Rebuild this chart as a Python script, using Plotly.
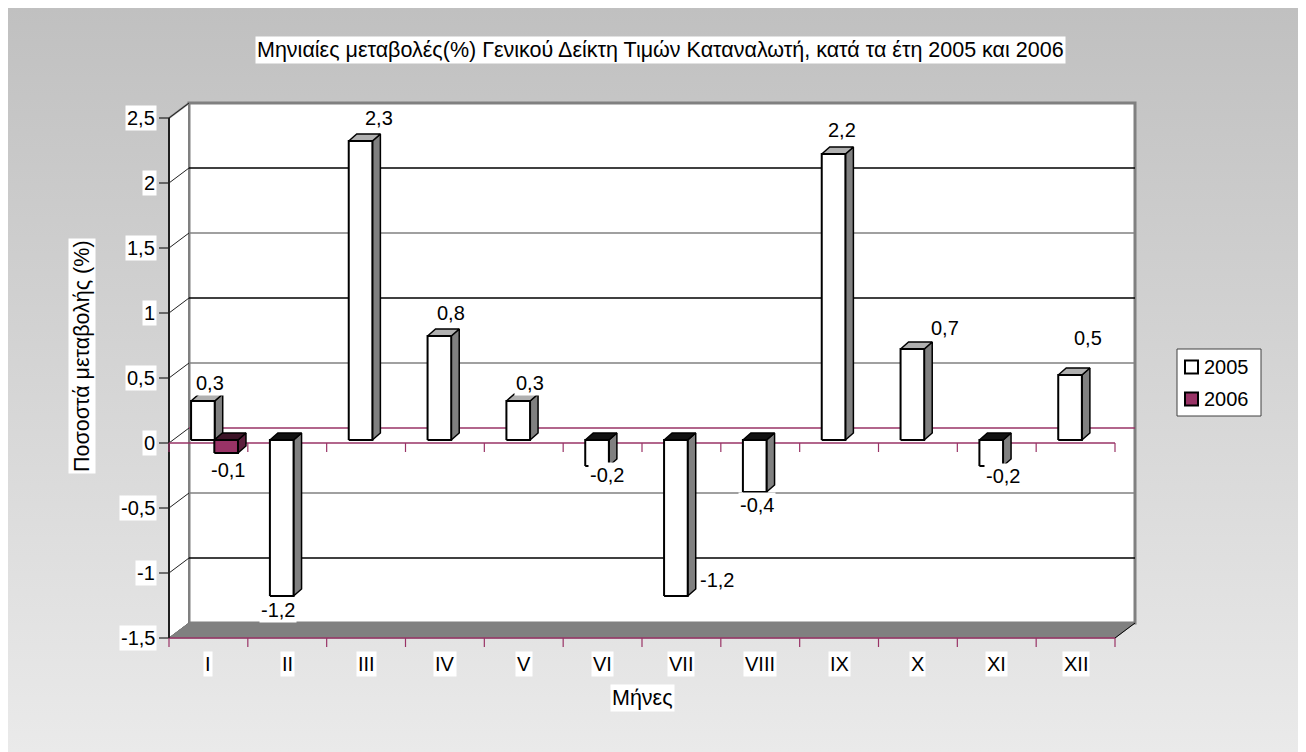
import base64
import plotly.graph_objects as go

# ---------------- data ----------------
title_text = "Μηνιαίες μεταβολές(%) Γενικού Δείκτη Τιμών Καταναλωτή, κατά τα έτη 2005 και 2006"
y_title = "Ποσοστά μεταβολής (%)"
x_title = "Μήνες"
months = ["I", "II", "III", "IV", "V", "VI", "VII", "VIII", "IX", "X", "XI", "XII"]
series_names = ["2005", "2006"]
values_2005 = [0.3, -1.2, 2.3, 0.8, 0.3, -0.2, -1.2, -0.4, 2.2, 0.7, -0.2, 0.5]
values_2006 = [-0.1, None, None, None, None, None, None, None, None, None, None, None]
y_ticks = [-1.5, -1.0, -0.5, 0.0, 0.5, 1.0, 1.5, 2.0, 2.5]
y_tick_labels = ["-1,5", "-1", "-0,5", "0", "0,5", "1", "1,5", "2", "2,5"]

# label placement offsets (pixels, relative to bar end)
label_offsets_2005 = [(7, -18), (-4, 14), (18, -23), (12, -23), (12, -18), (10, 9),
                      (41, -16), (2, 13), (8, -24), (33, -21), (12, 10), (18, -37)]
label_offsets_2006 = [(2, 17)] + [None] * 11

# ---------------- geometry / style ----------------
PAGE = 8                                   # page body margin
W, H = 1306 - PAGE, 752 - PAGE
PL, PR, PT, PB = 150, 1140, 100, 650       # plot area in screen pixels
X0PX, Y0PX = 169, 443                      # front origin (screen pixel)
n = len(months)
SX = 946.0 / n                             # px per category
SY = 130.0                                 # px per unit
DXB, DYB = 20 / SX, 15 / SY                # back wall offset
BDX, BDY = 8 / SX, 7 / SY                  # bar depth
BASE = 3 / SY                              # bar base depth offset
BAR_W = 0.30
BAR_OFF = [0.28, 0.575]
ymin, ymax = y_ticks[0], y_ticks[-1]

FONT = "Liberation Sans, Arial, sans-serif"
FS = 20
FS_T = 21.5
PLUM = "#993366"
GRAY = "#808080"

fig = go.Figure()


def add_poly(xs, ys, fill=None, color="black", width=1.0):
    fig.add_trace(go.Scatter(
        x=list(xs) + [xs[0]], y=list(ys) + [ys[0]], mode="lines",
        fill="toself" if fill else "none", fillcolor=fill,
        line=dict(color=color, width=width), hoverinfo="skip", showlegend=False))


def add_line(xs, ys, color="black", width=1.0):
    fig.add_trace(go.Scatter(x=xs, y=ys, mode="lines", line=dict(color=color, width=width),
                             hoverinfo="skip", showlegend=False))


# back wall
add_poly([DXB, n + DXB, n + DXB, DXB], [ymin + DYB, ymin + DYB, ymax + DYB, ymax + DYB],
         fill="white", color=GRAY, width=3)
# side wall
add_poly([0, DXB, DXB, 0], [ymin, ymin + DYB, ymax + DYB, ymax], fill="white", color="white", width=0.5)
add_line([0, DXB], [ymax, ymax + DYB], color=GRAY, width=2)
add_line([DXB, DXB], [ymin + DYB, ymax + DYB], color=GRAY, width=2)

# gridlines on back wall and diagonals on side wall
for v in y_ticks:
    if ymin < v < ymax:
        if v == 0:
            c = PLUM
        elif float(v).is_integer():
            c = "black"
        else:
            c = GRAY
        add_line([DXB, n + DXB], [v + DYB, v + DYB], color=c, width=1.5)
    add_line([0, DXB], [v, v + DYB], color="#202020", width=1)

# floor
add_poly([0, n, n + DXB, DXB], [ymin, ymin, ymin + DYB, ymin + DYB], fill=GRAY, color=GRAY, width=1)
add_line([n, n + DXB], [ymin, ymin + DYB], color="black", width=1)
add_line([0, n], [ymin, ymin], color=PLUM, width=1.5)

# front y axis line and ticks
add_line([0, 0], [ymin, ymax], color="#202020", width=2)
TL = 10 / SX
for v in y_ticks:
    add_line([-TL, 0], [v, v], color="#202020", width=1.2)

# category tick marks (zero line and floor edge)
TK = 9 / SY
add_line([0, n], [0, 0], color=PLUM, width=1.5)
for i in range(n + 1):
    add_line([i, i], [0, -TK], color=PLUM, width=1.2)
    add_line([i, i], [ymin, ymin - TK], color=PLUM, width=1.2)

# bars
styles = [
    dict(front="white", side=GRAY, top_pos="#b0b0b0", top_neg="#111111"),
    dict(front=PLUM, side="#5c1f3d", top_pos="#b36b8f", top_neg="#3d1428"),
]
annotations = []
series_vals = [values_2005, values_2006]
series_offs = [label_offsets_2005, label_offsets_2006]
for i in range(n):
    for s in range(2):
        v = series_vals[s][i]
        if v is None:
            continue
        st = styles[s]
        x0 = i + BAR_OFF[s]
        x1 = x0 + BAR_W
        yb, yt = BASE, BASE + v
        lo, hi = min(yb, yt), max(yb, yt)
        # side face
        add_poly([x1, x1 + BDX, x1 + BDX, x1], [lo, lo + BDY, hi + BDY, hi],
                 fill=st["side"], color="black", width=1.5)
        # top face
        add_poly([x0, x1, x1 + BDX, x0 + BDX], [hi, hi, hi + BDY, hi + BDY],
                 fill=st["top_pos"] if v >= 0 else st["top_neg"], color="black", width=1.5)
        # front face
        add_poly([x0, x1, x1, x0], [lo, lo, hi, hi], fill=st["front"], color="black", width=2)
        off = series_offs[s][i]
        if off is not None:
            annotations.append(dict(
                x=(x0 + x1) / 2, y=yt, xref="x", yref="y", showarrow=False,
                xanchor="center", yanchor="middle",
                text=f"{v:g}".replace(".", ","), xshift=off[0], yshift=-off[1],
                font=dict(family=FONT, size=FS, color="black"), bgcolor="white", borderpad=1))

# y tick labels
for v, lab in zip(y_ticks, y_tick_labels):
    annotations.append(dict(x=-12 / SX, y=v, xref="x", yref="y", xanchor="right", yanchor="middle",
                            showarrow=False, text=lab, font=dict(family=FONT, size=FS, color="black"),
                            bgcolor="white", borderpad=1))
# category labels
for i, m in enumerate(months):
    annotations.append(dict(x=i + 0.5, y=ymin, xref="x", yref="y", yshift=-26, showarrow=False,
                            xanchor="center", yanchor="middle",
                            text=m, font=dict(family=FONT, size=FS, color="black"),
                            bgcolor="white", borderpad=1))


def px(xp):
    return (xp - PL) / (PR - PL)


def py(yp):
    return (PB - yp) / (PB - PT)


# titles
annotations.append(dict(x=px(660), y=py(50), xref="paper", yref="paper", showarrow=False,
                        xanchor="center", yanchor="middle",
                        text=title_text, font=dict(family=FONT, size=FS_T, color="black"),
                        bgcolor="white", borderpad=1))
annotations.append(dict(x=px(82), y=py(356), xref="paper", yref="paper", showarrow=False,
                        xanchor="center", yanchor="middle",
                        text=y_title, textangle=-90, font=dict(family=FONT, size=FS_T, color="black"),
                        bgcolor="white", borderpad=1))
annotations.append(dict(x=px(642), y=py(698), xref="paper", yref="paper", showarrow=False,
                        xanchor="center", yanchor="middle",
                        text=x_title, font=dict(family=FONT, size=FS_T, color="black"),
                        bgcolor="white", borderpad=1))

# legend (manual)
shapes = [dict(type="rect", xref="paper", yref="paper", x0=px(1177), x1=px(1261), y0=py(416), y1=py(349),
               fillcolor="white", line=dict(color="#404040", width=1), layer="above")]
leg_fill = ["white", PLUM]
for k, name in enumerate(series_names):
    cy = 367 + 32 * k
    shapes.append(dict(type="rect", xref="paper", yref="paper", x0=px(1185), x1=px(1198),
                       y0=py(cy + 6.5), y1=py(cy - 6.5), fillcolor=leg_fill[k],
                       line=dict(color="black", width=2), layer="above"))
    annotations.append(dict(x=px(1202), y=py(cy), xref="paper", yref="paper", xanchor="left",
                            yanchor="middle", showarrow=False, text=name,
                            font=dict(family=FONT, size=FS, color="black")))

# background gradient
svg = ("<svg xmlns='http://www.w3.org/2000/svg' width='1298' height='744'>"
       "<defs><linearGradient id='g' x1='0' y1='0' x2='0' y2='1'>"
       "<stop offset='0' stop-color='#c0c0c0'/><stop offset='1' stop-color='#eaeaea'/>"
       "</linearGradient></defs><rect width='1298' height='744' fill='url(#g)'/></svg>")
src = "data:image/svg+xml;base64," + base64.b64encode(svg.encode()).decode()

fig.update_layout(
    width=W, height=H,
    margin=dict(l=PL - PAGE, r=W - (PR - PAGE), t=PT - PAGE, b=H - (PB - PAGE), autoexpand=False),
    paper_bgcolor="white", plot_bgcolor="rgba(0,0,0,0)",
    showlegend=False,
    xaxis=dict(range=[(PL - X0PX) / SX, (PR - X0PX) / SX], visible=False, fixedrange=True),
    yaxis=dict(range=[(Y0PX - PB) / SY, (Y0PX - PT) / SY], visible=False, fixedrange=True),
    annotations=annotations, shapes=shapes,
    images=[dict(source=src, xref="paper", yref="paper", x=px(PAGE), y=py(PAGE),
                 sizex=W / (PR - PL), sizey=H / (PB - PT),
                 xanchor="left", yanchor="top", sizing="stretch", layer="below")],
)

fig.write_html("out.html")
